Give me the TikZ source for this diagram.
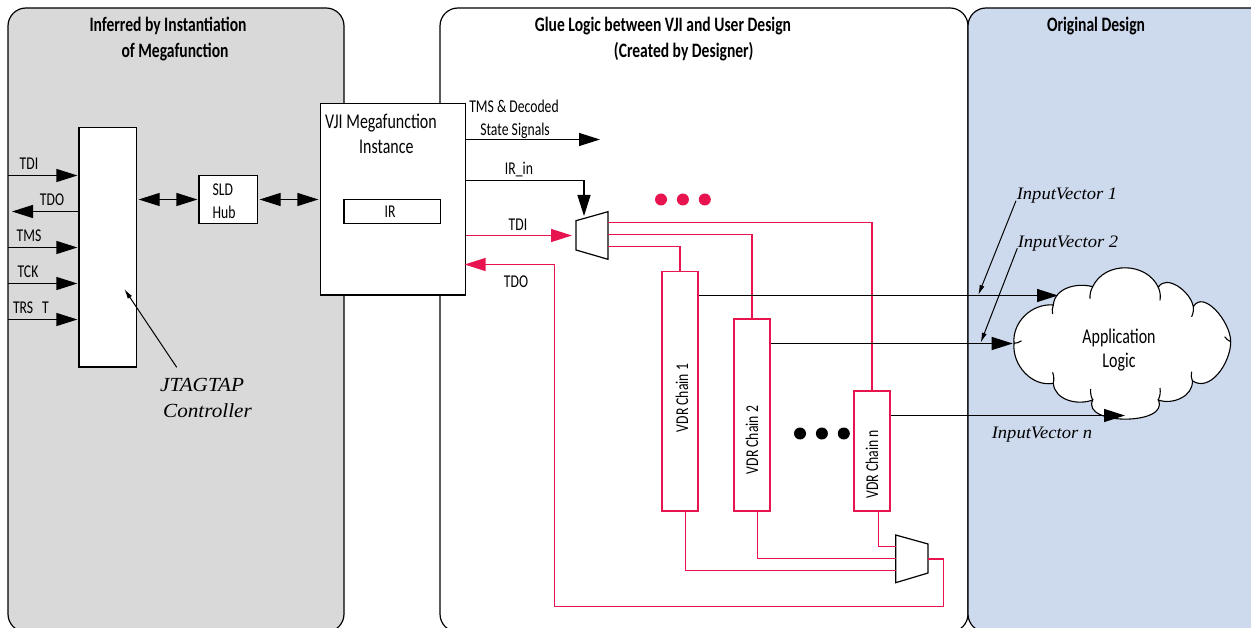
\documentclass[tikz,border=0pt]{standalone}
\usepackage{fontspec}
\setmainfont{Carlito}[FakeStretch=0.76]
\newfontfamily\vecfont{Liberation Serif}[FakeStretch=1.06]
\usepackage{xcolor}
\usepackage{tikz}
\usetikzlibrary{shapes,positioning,arrows.meta}
\definecolor{panelgrey}{HTML}{D9D9D9}
\definecolor{panelblue}{HTML}{CDD9EC}
\definecolor{sigred}{HTML}{E8144F}
\tikzset{panel/.style={draw,line width=1.2pt,rounded corners=18pt}}
\tikzset{box/.style={rectangle,draw,fill=white,line width=1.2pt,inner sep=0pt}}
\tikzset{chainbox/.style={rectangle,draw=sigred,fill=white,line width=1.3pt,inner sep=0pt,minimum width=36pt}}
\tikzset{mux/.style={draw,fill=white,line width=1.2pt}}
\tikzset{ttl/.style={inner sep=0pt,align=left,font=\fontsize{20.5}{26}\selectfont\bfseries}}
\tikzset{lbl/.style={inner sep=0pt,align=left,font=\fontsize{18}{23}\selectfont}}
\tikzset{big/.style={inner sep=0pt,align=left,font=\fontsize{21}{24.5}\selectfont}}
\tikzset{vec/.style={inner sep=0pt,align=left,font=\fontsize{17.5}{26}\selectfont\vecfont\itshape}}
\tikzset{tapvec/.style={inner sep=0pt,align=left,font=\fontsize{20}{26}\selectfont\vecfont\itshape}}
\tikzset{dot/.style={circle,inner sep=0pt,minimum size=12pt}}
\tikzset{wire/.style={line width=1.2pt,-{Triangle[length=21pt,width=13pt]}}}
\tikzset{both/.style={line width=1.2pt,{Triangle[length=21pt,width=13pt]}-{Triangle[length=21pt,width=13pt]}}}
\tikzset{leader/.style={line width=1pt,-{Latex[length=10pt,width=5pt]}}}
\tikzset{redwire/.style={draw=sigred,line width=1.3pt}}
\tikzset{puff/.style={line width=1.1pt}}
\begin{document}
\begin{tikzpicture}[x=1pt,y=-1pt]
    \useasboundingbox (0,0) rectangle (1251,628);

    \draw [panel,fill=panelgrey] (8,8) rectangle (344,632);
    \draw [panel,fill=white] (440,8) rectangle (968,632);
    \draw [panel,fill=panelblue] (968,8) rectangle (1290,632);

    \node[ttl] (t1) at (168,39) {Inferred by Instantiation\\\hspace*{32pt}of Megafunction};
    \node[ttl] (t2) at (663,39) {Glue Logic between VJI and User Design\\\hspace*{79pt}(Created by Designer)};
    \node[ttl] (t3) at (1096,26) {Original Design};

    \node[box,minimum width=57.5pt,minimum height=239.5pt] (tap) at (107.75,247.25) {};
    \node[box,minimum width=58.5pt,minimum height=48pt] (sld) at (228.25,199.5) {};
    \node[lbl] (sldlbl) at (224,201.5) {SLD\\Hub};
    \node[box,minimum width=145pt,minimum height=191.5pt] (vji) at (393,199.25) {};
    \node[big] (vjilbl) at (381,134) {VJI Megafunction\\\hspace*{34pt}Instance};
    \node[box,minimum width=96.5pt,minimum height=24pt] (ir) at (392.25,211.5) {};
    \node[lbl] (irlbl) at (390,212) {IR};

    \node[tapvec] (taplbl) at (206,398) {JTAGTAP\\\hspace*{3pt}Controller};
    \coordinate (tapend) at (176.7,367.3);
    \coordinate (taptip) at (124.3,289);
    \draw [leader] (tapend) -- (taptip);

    % pins of the controller
    \coordinate (tdi) at (8,175.5);
    \coordinate (tdo) at (12,211.5);
    \coordinate (tms) at (8,247.5);
    \coordinate (tck) at (8,283.5);
    \coordinate (trst) at (8,319.5);
    \draw [wire,shorten >=1pt] (tdi) -- (tap.west |- tdi);
    \draw [wire] (tap.west |- tdo) -- (tdo);
    \draw [wire,shorten >=1pt] (tms) -- (tap.west |- tms);
    \draw [wire,shorten >=1pt] (tck) -- (tap.west |- tck);
    \draw [wire,shorten >=1pt] (trst) -- (tap.west |- trst);
    \node[lbl] (tdilbl) at (29,164) {TDI};
    \node[lbl] (tdolbl) at (52,200) {TDO};
    \node[lbl] (tmslbl) at (29,236) {TMS};
    \node[lbl] (tcklbl) at (28,272) {TCK};
    \node[lbl] (trstlbl) at (31,308) {TRS\hspace{9pt}T};

    \draw [both,shorten <=1.5pt,shorten >=1pt] (tap.east |- sld) -- (sld);
    \draw [both,shorten <=1.5pt,shorten >=1.5pt] (sld) -- (vji.west |- sld);

    % glue logic
    \coordinate (muxaw) at (576,235.5);
    \coordinate (muxae) at (608,235.5);
    \coordinate (muxbw) at (895.7,559);
    \coordinate (muxbe) at (928,559);
    \draw [mux] (576,220.7) -- (608,211.7) -- (608,259.3) -- (576,250) -- cycle;
    \draw [mux] (895.7,535) -- (928,544) -- (928,573) -- (895.7,582.7) -- cycle;
    \node[chainbox,minimum height=239.5pt] (chaina) at (680,391.25) {};
    \node[chainbox,minimum height=192pt] (chainb) at (752,415) {};
    \node[chainbox,minimum height=120pt] (chainn) at (872,451) {};
    \node[lbl,rotate=90] (chainalbl) at (682,398) {VDR Chain 1};
    \node[lbl,rotate=90] (chainblbl) at (752,440) {VDR Chain 2};
    \node[lbl,rotate=90] (chainnlbl) at (872,464) {VDR Chain n};

    \node[dot,fill=sigred] (ra) at (661,199.5) {};
    \node[dot,fill=sigred,right=9.5pt of ra] (rb) {};
    \node[dot,fill=sigred,right=9.5pt of rb] (rc) {};
    \node[dot,fill=black] (ka) at (800,433.5) {};
    \node[dot,fill=black,right=9.5pt of ka] (kb) {};
    \node[dot,fill=black,right=9.5pt of kb] (kc) {};

    \coordinate (tmsout) at (600,139.5);
    \coordinate (irturn) at (584,180.5);
    \coordinate (irtip) at (584,216);
    \draw [wire] (vji.east |- tmsout) -- (tmsout);
    \draw [wire] (vji.east |- irturn) -- (irturn) -- (irtip);
    \node[lbl] (tmsoutlbl) at (514,119) {TMS \& Decoded\\\hspace*{11pt}State Signals};
    \node[lbl] (irinlbl) at (519,170) {IR\_in};

    \coordinate (outr) at (943.5,606.5);
    \coordinate (tdoturn) at (554.5,264.5);
    \draw [redwire,-{Triangle[length=21pt,width=13pt,sigred]},shorten >=4pt] (vji.east |- muxaw) -- (muxaw);
    \draw [redwire,-{Triangle[length=21pt,width=13pt,sigred]},shorten >=-1.5pt] (muxbe) -| (outr) -| (tdoturn) -- (vji.east |- tdoturn);
    \node[lbl] (tdiglbl) at (518,225) {TDI};
    \node[lbl] (tdoglbl) at (516,282) {TDO};

    \draw [redwire] ([yshift=13pt]muxae) -| (chainn.north);
    \draw [redwire] ([yshift=1pt]muxae) -| (chainb.north);
    \draw [redwire] ([yshift=-11pt]muxae) -| (chaina.north);
    \draw [redwire] ([xshift=5.5pt]chaina.south) |- ([yshift=-11.5pt]muxbw);
    \draw [redwire] ([xshift=5.5pt]chainb.south) |- ([yshift=0.5pt]muxbw);
    \draw [redwire] ([xshift=6.5pt]chainn.south) |- ([yshift=12.5pt]muxbw);

    % application logic
    \coordinate (ca) at (1092.7,286.7);
    \coordinate (cb) at (1158.3,287.3);
    \coordinate (cc) at (1193.3,306.7);
    \coordinate (cd) at (1230.7,341.7);
    \coordinate (ce) at (1192.3,380.7);
    \coordinate (cf) at (1158.3,400);
    \coordinate (cg) at (1092.7,400);
    \coordinate (ch) at (1053.3,383.3);
    \coordinate (ci) at (1014,343.3);
    \coordinate (cj) at (1053.3,305);
    \draw [puff,fill=white] (ca) to [out=65,in=115,looseness=1.1] (cb)
        to [out=60,in=100] (cc) to [out=60,in=90] (cd)
        to [out=-90,in=-35] (ce) to [out=-85,in=-20] (cf)
        to [out=-65,in=-115,looseness=1.1] (cg) to [out=-160,in=-85] (ch)
        to [out=190,in=-95] (ci) to [out=95,in=175] (cj)
        to [out=85,in=165] (ca) -- cycle;
    \draw [puff] (ca) to [bend right=15] ++(-2.7,12);
    \draw [puff] (cb) to [bend left=15] ++(1.7,13);
    \draw [puff] (cc) to [bend left=15] ++(-1.7,10);
    \draw [puff] (ce) to [bend left=15] ++(-0.7,-9);
    \draw [puff] (cf) to [bend right=15] ++(1.7,-12);
    \draw [puff] (cg) to [bend left=15] ++(-2,-11);
    \draw [puff] (ch) to [bend right=15] ++(-0.7,-11);
    \draw [puff] (cj) to [bend right=15] ++(-0.7,9);
    \draw [puff] (ci) to [bend right=15] ++(7.5,-2.5);
    \draw [puff] (cd) to [bend left=15] ++(-6,-5);
    \node[big,align=center] (app) at (1119,350) {Application\\Logic};

    \coordinate (ina) at (1058,295.5);
    \coordinate (inb) at (1012.7,343.5);
    \coordinate (inn) at (1125,415.5);
    \draw [wire] (chaina.east |- ina) -- (ina);
    \draw [wire] (chainb.east |- inb) -- (inb);
    \draw [wire] (chainn.east |- inn) -- (inn);

    \node[vec] (veca) at (1067,196) {InputVector 1};
    \node[vec] (vecb) at (1068,244) {InputVector 2};
    \node[vec] (vecn) at (1042,435) {InputVector n};
    \coordinate (vecaend) at (1016,200.7);
    \coordinate (vecatip) at (978.3,295);
    \coordinate (vecbend) at (1017.3,248.3);
    \coordinate (vecbtip) at (980.7,342.7);
    \draw [leader] (vecaend) -- (vecatip);
    \draw [leader] (vecbend) -- (vecbtip);
\end{tikzpicture}
\end{document}
